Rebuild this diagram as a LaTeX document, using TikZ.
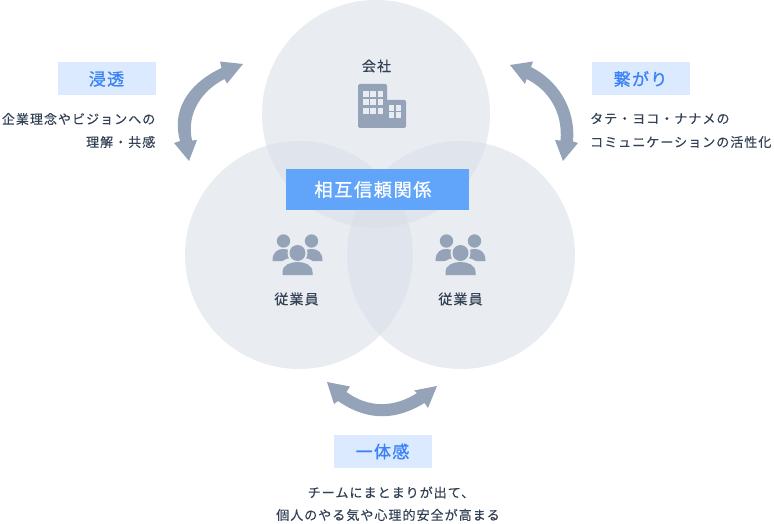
\documentclass[tikz,border=0pt]{standalone}
\usepackage{fontspec}
\setmainfont{Noto Sans CJK JP}
\newfontfamily\spacedjp[LetterSpace=8,FakeBold=0.3]{Noto Sans CJK JP}
\newfontfamily\spacedtitle[LetterSpace=8,FakeBold=0.9]{Noto Sans CJK JP}
\definecolor{circfill}{HTML}{DADFE8}
\definecolor{iconc}{HTML}{94A3B8}
\definecolor{winc}{HTML}{E9ECF1}
\definecolor{labelbg}{HTML}{DBEAFE}
\definecolor{labelfg}{HTML}{3B82F6}
\definecolor{centerbg}{HTML}{60A5FA}
\definecolor{textc}{HTML}{334155}
\tikzset{
  x=1pt,y=-1pt,
  circ/.style={circle,fill=circfill,fill opacity=.6,minimum size=228pt,inner sep=0pt,draw=none},
  labelbox/.style={fill=labelbg,minimum width=98pt,minimum height=33pt,inner sep=0pt,text=labelfg,font=\spacedtitle\fontsize{17}{19}\selectfont},
  bodytext/.style={text=textc,inner sep=0pt,font=\spacedjp\fontsize{13}{24}\selectfont},
  iconlabel/.style={text=textc,inner sep=0pt,font=\spacedjp\fontsize{14}{16}\selectfont},
  bigarrow/.style={fill=iconc,draw=none},
  win/.style={fill=winc,draw=none},
  people/.pic={
    \fill[iconc] (-12,-12) circle (6.7);
    \fill[iconc] (16,-12) circle (6.7);
    \fill[iconc] (-23,8) .. controls (-23,-2) and (-17,-4) .. (-12,-4) .. controls (-7,-4) and (-3,-2) .. (-1,8) -- cycle;
    \fill[iconc] (5,8) .. controls (7,-2) and (11,-4) .. (16,-4) .. controls (21,-4) and (27,-2) .. (27,8) -- cycle;
    \fill[winc] (2,0) circle (10);
    \fill[winc] (-15,23) -- (-15,12) .. controls (-14,5) and (-5,5) .. (2,5) .. controls (9,5) and (18,5) .. (19,12) -- (19,23) -- cycle;
    \fill[iconc] (2,0) circle (8);
    \fill[iconc] (-13,22) -- (-13,19) .. controls (-13,12) and (-5,9) .. (2,9) .. controls (9,9) and (17,12) .. (17,19) -- (17,22) -- cycle;
  }
}
\begin{document}
\begin{tikzpicture}
\useasboundingbox (0,0) rectangle (774,524);
\node[circ] (ctop) at (376,114) {};
\node[circ] (cleft) at (299,255) {};
\node[circ] (cright) at (461,255) {};

% building icon
\fill[iconc,rounded corners=1.5pt] (358,84) rectangle (387,128);
\fill[iconc,rounded corners=1.5pt] (380,100) rectangle (406,128);
\foreach \x in {363,370.3,377.5}\foreach \y in {91,99.3,108}{\fill[win] (\x,\y) rectangle +(5.6,5.8);}
\foreach \x in {388.5,395.8}\foreach \y in {105.3,112.3}{\fill[win] (\x,\y) rectangle +(5.4,5.4);}

\pic at (295.5,253) {people};
\pic at (458.5,253) {people};

\node[iconlabel] (lcompany) at (376.5,66) {会社};
\node[iconlabel] (lstaffa) at (296.5,299) {従業員};
\node[iconlabel] (lstaffb) at (460.5,299) {従業員};

\node[fill=centerbg,text=white,minimum width=183pt,minimum height=41pt,inner sep=0pt,font=\spacedtitle\fontsize{18.3}{20}\selectfont] (center) at (377.5,189.5) {\hspace{-9pt}相互信頼関係};

\node[labelbox] (lshin) at (107,79) {\hspace{-1pt}浸透};
\node[labelbox] (ltsu) at (641,79) {\hspace{-1pt}繋がり};
\node[labelbox] (lichi) at (383,451.5) {\hspace{-1pt}一体感};

\node[bodytext,anchor=east] (ta) at (155.5,119) {企業理念やビジョンへの};
\node[bodytext,anchor=east] (tb) at (155.5,142) {理解・共感};
\node[bodytext,anchor=west] (tc) at (590,118.5) {タテ・ヨコ・ナナメの};
\node[bodytext,anchor=west] (td) at (590,142) {コミュニケーションの活性化};
\node[bodytext] (te) at (391,492.5) {チームにまとまりが出て、};
\node[bodytext] (tf) at (388,515) {個人のやる気や心理的安全が高まる};

% left arrow
\path[bigarrow] (243,64) -- (220,61.5) -- (221.5,68)
  .. controls (195,80) and (170,105) .. (180,141) -- (174,143) -- (189,161) -- (197,140) -- (192,140.5)
  .. controls (186,112) and (203,90) .. (224.5,79) -- (227,83.5) -- cycle;
% right arrow
\path[bigarrow] (510,65) -- (533,61.5) -- (531,67)
  .. controls (557,80) and (576,108) .. (573,141.5) -- (578,143) -- (563,161) -- (555,140) -- (560.5,140.5)
  .. controls (563,113) and (549,90) .. (526.5,79) -- (525,84) -- cycle;
% bottom arrow
\path[bigarrow] (327,382) -- (350,386.5) -- (346.5,392)
  .. controls (368,408) and (394,408) .. (417,393) -- (414,390.5) -- (437,386) -- (428,408) -- (424.5,403)
  .. controls (395,421) and (367,421) .. (338,401) -- (334,404) -- cycle;
\end{tikzpicture}
\end{document}
